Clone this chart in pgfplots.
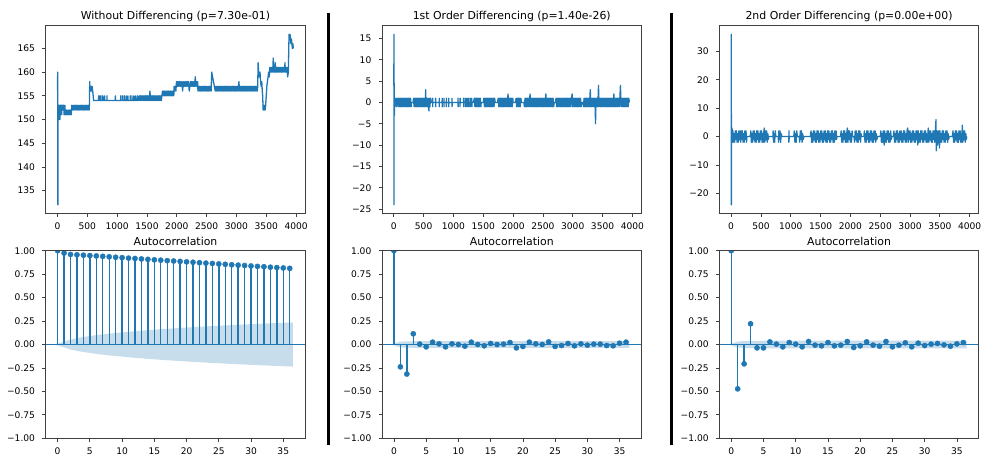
\documentclass[border=0pt]{standalone}
\usepackage{fontspec}
\setmainfont{DejaVu Sans}
\usepackage{pgfplots}
\usepackage{pgfplotstable}
\pgfplotsset{compat=1.18}
\definecolor{c0}{RGB}{31,119,180}
\newcommand\ticksize{\fontsize{9.1pt}{10.5pt}\selectfont}
\newcommand\titlesize{\fontsize{10.9pt}{12.5pt}\selectfont}

\pgfplotstableread{
lag acf
0 1.0
1 0.975
2 0.960
3 0.956
4 0.952
5 0.948
6 0.944
7 0.940
8 0.935
9 0.930
10 0.926
11 0.921
12 0.917
13 0.912
14 0.908
15 0.903
16 0.899
17 0.894
18 0.890
19 0.886
20 0.881
21 0.877
22 0.872
23 0.868
24 0.864
25 0.859
26 0.855
27 0.850
28 0.846
29 0.842
30 0.837
31 0.833
32 0.829
33 0.824
34 0.820
35 0.816
36 0.812
}\acfA

\pgfplotstableread{
lag acf
0 1.0
1 -0.238
2 -0.315
3 0.114
4 0.004
5 -0.025
6 0.025
7 0.007
8 -0.025
9 0.007
10 0.0
11 -0.018
12 0.025
13 0.0
14 -0.014
15 0.011
16 0.0
17 0.004
18 0.021
19 -0.036
20 -0.021
21 0.025
22 0.007
23 0.0
24 0.028
25 -0.021
26 -0.011
27 0.011
28 -0.014
29 0.007
30 -0.007
31 0.004
32 0.004
33 -0.011
34 -0.014
35 0.014
36 0.025
}\acfB

\pgfplotstableread{
lag acf
0 1.0
1 -0.473
2 -0.206
3 0.221
4 -0.036
5 -0.036
6 0.028
7 0.004
8 -0.025
9 0.021
10 0.004
11 -0.025
12 0.032
13 -0.007
14 -0.014
15 0.021
16 -0.014
17 -0.007
18 0.032
19 -0.032
20 -0.014
21 0.028
22 -0.007
23 -0.018
24 0.032
25 -0.025
26 -0.007
27 0.018
28 -0.025
29 0.014
30 -0.011
31 0.004
32 0.011
33 -0.004
34 -0.018
35 0.007
36 0.021
}\acfC

% confidence bands: upper edge then lower edge reversed (closed polygon)
\pgfplotstableread{
x y
-0.5 0
1 0.031
2 0.053
3 0.068
4 0.080
5 0.090
6 0.100
7 0.108
8 0.116
9 0.123
10 0.129
11 0.136
12 0.142
13 0.147
14 0.153
15 0.158
16 0.163
17 0.168
18 0.172
19 0.177
20 0.181
21 0.185
22 0.189
23 0.193
24 0.197
25 0.200
26 0.204
27 0.207
28 0.211
29 0.214
30 0.217
31 0.220
32 0.223
33 0.226
34 0.229
35 0.232
36.5 0.235
36.5 -0.235
35 -0.232
34 -0.229
33 -0.226
32 -0.223
31 -0.220
30 -0.217
29 -0.214
28 -0.211
27 -0.207
26 -0.204
25 -0.200
24 -0.197
23 -0.193
22 -0.189
21 -0.185
20 -0.181
19 -0.177
18 -0.172
17 -0.168
16 -0.163
15 -0.158
14 -0.153
13 -0.147
12 -0.142
11 -0.136
10 -0.129
9 -0.123
8 -0.116
7 -0.108
6 -0.100
5 -0.090
4 -0.080
3 -0.068
2 -0.053
1 -0.031
-0.5 0
}\bandA

\pgfplotstableread{
x y
-0.5 0
1 0.031
2 0.033
3 0.035
4 0.036
36.5 0.036
36.5 -0.036
4 -0.036
3 -0.035
2 -0.033
1 -0.031
-0.5 0
}\bandB

\pgfplotstableread{
x y
-0.5 0
1 0.031
2 0.037
3 0.039
4 0.040
36.5 0.041
36.5 -0.041
4 -0.040
3 -0.039
2 -0.037
1 -0.031
-0.5 0
}\bandC

\pgfplotsset{
  base/.style={
    scale only axis, width=259.5pt, height=187.6pt, anchor=south west,
    axis line style={black!75, line width=0.75pt},
    every tick/.style={black!75, line width=0.75pt},
    tick align=outside, major tick length=3.3pt,
    xtick pos=bottom, ytick pos=left,
    ticklabel style={font=\ticksize},
    every axis title/.style={at={(0.5,1)}, anchor=base, yshift=5.7pt, font=\titlesize},
    xticklabel style={anchor=base, yshift=-13.3pt},
    yticklabel style={anchor=east, inner sep=0pt, xshift=-7.2pt},
    /pgf/number format/assume math mode=true,
    /pgf/number format/1000 sep={},
    axis on top,
  },
  ts/.style={base, xmin=-198, xmax=4153, xtick={0,500,...,4000}},
  acf/.style={base, xmin=-1.85, xmax=38.4, ymin=-1, ymax=1,
    clip marker paths=true,
    xtick={0,5,...,35},
    ytick={-1,-0.75,-0.5,-0.25,0,0.25,0.5,0.75,1},
    yticklabels={−1.00,−0.75,−0.50,−0.25,0.00,0.25,0.50,0.75,1.00}},
  ser/.style={c0, line width=1.3pt, line join=round, no marks},
  stem/.style={c0, line width=1.4pt, ycomb, no marks},
  dots/.style={c0, only marks, mark=*, mark size=2.6pt, mark options={fill=c0, draw=c0}},
}

\begin{document}
\begin{tikzpicture}
\useasboundingbox (0,0) rectangle (982pt,456pt);

% ---------------- top left ----------------
\begin{axis}[ts, at={(45.7pt,242.7pt)}, ymin=130.2, ymax=169.8,
  ytick={135,140,...,165}, title={Without Differencing (p=7.30e-01)}]
\addplot[ser] coordinates {
(0,156)(3,160)(6,132)(10,151)(15,150)(20,153)(25,150)(30,152)(35,153)(40,150)(45,153)(50,151)(55,153)(60,152)(65,153)(70,151)(75,153)(80,152)(85,153)(90,152)(95,153)(100,152)(105,153)(110,151)(115,152)(120,151)(125,153)(130,151)(140,152)(150,151)(160,152)(170,151)(180,152)(190,151)(200,152)(210,151)(220,152)(230,151)(240,153)(250,152)(260,153)(270,152)(280,153)(290,152)(300,153)(310,152)(320,153)(330,152)(340,153)(350,152)(360,153)(370,152)(380,153)(390,152)(400,153)(410,152)(420,153)(430,152)(440,153)(450,152)(460,153)(470,152)(480,153)(490,152)(500,153)(510,152)(520,153)(530,152)(535,153)(540,158)(545,156)(550,157)(555,156)(560,157)(565,156)(570,157)(575,156)(580,157)(590,156)(598,155)(605,154)
(689,154)(690,155)(691,154)(709,154)(710,155)(711,154)(729,154)(730,155)(731,154)(759,154)(760,155)(761,154)(789,154)(790,155)(791,154)(829,154)(830,155)(831,154)(969,154)(970,155)(971,154)(1059,154)(1060,155)(1061,154)(1089,154)(1090,155)(1091,154)(1119,154)(1120,155)(1121,154)(1149,154)(1150,155)(1151,154)(1179,154)(1180,155)(1181,154)(1219,154)(1220,155)(1221,154)(1249,154)(1250,155)(1251,154)(1279,154)(1280,155)(1281,154)(1309,154)(1310,155)(1311,154)(1339,154)(1340,155)(1341,154)(1360,154)(1370,155)(1380,154)
(1390,155)(1400,154)(1410,155)(1420,154)(1430,155)(1440,154)(1450,155)(1460,154)(1470,155)(1480,154)(1490,155)(1500,154)(1510,155)(1520,154)(1530,155)(1540,154)(1550,156)(1560,154)(1570,155)(1580,154)(1590,155)(1600,154)(1610,155)(1620,154)(1630,155)(1640,154)(1650,155)(1660,154)(1670,155)(1680,154)(1690,155)(1700,154)(1710,155)(1720,154)(1730,155)(1740,154)(1750,155)
(1760,156)(1770,155)(1780,156)(1790,155)(1800,156)(1810,155)(1820,156)(1830,155)(1840,156)(1850,155)(1860,156)(1870,155)(1880,156)(1890,155)(1900,156)(1910,155)(1920,156)(1930,155)(1940,156)(1950,155)(1955,157)(1965,156)(1975,157)(1985,156)(1995,158)(2005,157)
(2010,158)(2020,157)(2030,158)(2040,157)(2050,158)(2060,157)(2070,158)(2080,157)(2090,158)(2096,156)(2105,157)(2115,158)(2125,157)(2135,158)(2145,157)(2155,158)(2165,157)(2175,158)(2185,157)(2195,158)(2209,156)(2220,157)(2230,158)(2240,157)(2250,158)(2260,157)(2270,158)(2280,157)(2290,158)(2300,157)(2310,159)(2320,157)(2330,158)(2340,157)(2349,158)
(2355,156)(2365,157)(2375,156)(2385,157)(2395,156)(2405,157)(2415,156)(2425,157)(2435,156)(2445,157)(2455,156)(2465,157)(2475,156)(2485,157)(2495,156)(2505,157)(2515,156)(2525,157)(2535,156)(2545,157)(2555,156)(2565,157)(2575,156)(2586,160)(2600,159)(2615,158)(2630,157)(2645,156)
(2655,157)(2665,156)(2675,157)(2685,156)(2695,157)(2705,156)(2715,157)(2725,156)(2735,157)(2745,156)(2755,157)(2765,156)(2775,157)(2785,156)(2795,157)(2805,156)(2815,157)(2825,156)(2835,157)(2845,156)(2855,157)(2865,156)(2875,157)(2885,156)(2895,157)(2905,156)(2915,157)(2925,156)(2935,157)(2945,156)(2955,157)(2965,156)(2975,157)(2985,156)(2995,157)(3005,156)(3015,157)(3025,156)(3035,157)(3042,158)(3050,156)(3060,157)(3070,156)(3080,157)(3090,156)(3100,157)(3110,156)(3120,157)(3130,156)(3140,157)(3150,156)(3160,157)(3170,156)(3180,157)(3190,156)(3200,157)(3210,156)(3220,157)(3230,156)(3240,157)(3250,156)(3260,157)(3270,156)(3280,157)(3290,156)(3300,157)(3310,156)(3320,157)(3330,156)(3340,157)(3350,156)(3357,157)
(3363,162)(3372,160)(3385,159)(3395,160)(3405,158)(3415,157)(3425,158)(3433,156)(3440,155)(3448,152)(3456,153)(3464,152)(3472,153)(3480,152)(3490,153)(3500,155)(3510,157)(3520,158)(3530,159)(3540,160)(3550,159)
(3560,161)(3570,160)(3580,161)(3590,160)(3600,161)(3610,160)(3617,163)(3625,160)(3635,161)(3645,160)(3650,162)(3660,160)(3670,161)(3680,160)(3690,161)(3700,160)(3710,161)(3720,160)(3730,161)(3740,160)(3750,161)(3760,160)(3770,161)(3780,160)(3790,161)(3800,160)(3810,161)(3814,162)(3820,160)(3830,161)(3840,160)(3850,161)(3859,159)(3870,160)(3882,168)(3890,167)(3898,168)(3906,167)(3914,166)(3922,167)(3930,166)(3938,165)(3946,166)(3955,165)
};
\end{axis}

% ---------------- top middle ----------------
\begin{axis}[ts, at={(382pt,242.7pt)}, ymin=-26, ymax=18,
  ytick={-25,-20,...,15}, yticklabels={−25,−20,−15,−10,−5,0,5,10,15},
  title={1st Order Differencing (p=1.40e-26)}]
\addplot[ser] coordinates {
(1,4)(2,16)(3,-24)(4,8)(6,-1)(10,-3)(14,1)(20,0)(30,1)(40,-1)(50,0)
(60,1)(70,-1)(80,1)(90,-1)(100,1)(110,-1)(120,1)(130,-1)(140,1)(150,-1)(160,1)(170,-1)(180,1)(190,-1)(200,1)(210,-1)(220,1)(230,-1)(240,1)(250,-1)(260,1)(270,-1)(280,1)(290,-1)(295,0)(325,0)
(330,1)(340,-1)(350,1)(360,-1)(370,1)(380,-1)(390,1)(400,-1)(410,1)(420,-1)(430,1)(440,-1)(450,1)(460,-1)(470,1)(480,-1)(490,1)(500,-1)(510,1)(520,-1)(530,1)(535,3)(540,-1)(550,1)(560,-1)(570,1)(580,-1)(590,-2)(595,1)(605,-1)(615,1)(625,0)
(650,0)(651,1)(652,-1)(653,0)(700,0)(701,1)(702,-1)(703,0)(760,0)(761,-1)(762,1)(763,0)(810,0)(811,1)(812,-1)(813,0)(840,0)(841,1)(842,-1)(843,0)(880,0)(881,-1)(882,1)(883,0)(920,0)(921,1)(922,-1)(923,0)(975,0)(976,1)(977,-1)(978,0)(1076,0)(1077,1)(1078,-1)(1079,0)(1110,0)(1111,-1)(1112,1)(1113,0)(1170,0)(1171,1)(1172,-1)(1173,0)(1200,0)(1201,1)(1202,-1)(1203,0)(1225,0)(1226,-1)(1227,1)(1228,0)(1252,0)(1253,1)(1254,-1)(1255,0)(1280,0)(1281,1)(1282,-1)(1283,0)(1307,0)(1308,1)(1309,-1)(1310,0)(1335,0)
(1350,1)(1360,-1)(1370,1)(1380,-1)(1390,1)(1400,-1)(1410,1)(1420,-1)(1430,1)(1440,-1)(1450,1)(1460,-1)(1465,0)(1500,0)
(1510,1)(1520,-1)(1530,1)(1540,-1)(1550,1)(1560,-1)(1570,1)(1580,-1)(1590,1)(1600,-1)(1610,1)(1620,-1)(1630,1)(1640,-1)(1650,1)(1660,-1)(1670,1)(1680,-1)(1690,1)(1700,0)(1740,0)
(1750,1)(1760,-1)(1770,1)(1780,-1)(1790,1)(1800,-1)(1810,1)(1820,-1)(1830,1)(1840,-1)(1850,1)(1860,-1)(1870,1)(1880,-1)(1890,1)(1900,-1)(1915,2)(1925,-1)
(1935,1)(1945,-1)(1955,1)(1965,-1)(1975,1)(1985,-1)(1995,1)(2000,0)(2040,0)
(2050,1)(2060,-1)(2070,1)(2080,-1)(2090,1)(2100,-1)(2110,1)(2120,-1)(2130,1)(2140,0)(2180,0)
(2190,-1)(2200,1)(2210,-1)(2220,1)(2230,-1)(2240,1)(2250,-1)(2260,1)(2270,-1)(2284,2)(2295,-1)
(2305,1)(2315,-1)(2325,1)(2335,-1)(2345,1)(2355,-1)(2365,1)(2375,-1)(2385,1)(2395,-1)(2405,1)(2415,-1)(2425,1)(2435,-1)(2445,1)(2455,-1)(2465,1)(2475,-1)(2485,1)(2495,-1)(2505,1)(2515,-1)(2525,1)(2535,-1)(2550,2)(2560,-1)
(2570,1)(2580,-1)(2590,1)(2600,-1)(2610,1)(2620,-1)(2630,1)(2640,-1)(2650,1)(2660,-1)(2670,1)(2680,-1)(2690,0)(2710,0)
(2720,1)(2730,-1)(2740,1)(2750,-1)(2760,1)(2770,-1)(2780,1)(2790,-1)(2800,1)(2810,-1)(2820,1)(2830,-1)(2840,1)(2850,-1)(2860,1)(2870,-1)(2880,1)(2890,-1)(2900,1)(2910,-1)(2920,1)(2930,-1)(2940,1)(2950,-1)(2960,1)(2970,-1)(2980,1)(2990,2)(3000,-1)
(3010,1)(3020,-1)(3030,1)(3040,-1)(3050,1)(3060,-1)(3070,1)(3080,-1)(3090,1)(3100,-1)(3110,1)(3120,-1)(3130,1)(3140,-1)(3150,0)(3170,0)
(3180,-1)(3190,1)(3200,-1)(3210,1)(3220,-1)(3230,1)(3240,-1)(3250,1)(3260,-1)(3270,1)(3280,-1)(3294,3)(3302,-1)(3310,1)(3320,-1)(3330,1)(3340,-1)(3350,1)(3360,-1)(3370,1)(3376,-1)(3382,-5)(3390,1)(3400,-1)(3410,1)(3420,-1)(3432,4)(3440,-1)
(3450,1)(3460,-1)(3470,1)(3480,-1)(3490,1)(3500,-1)(3510,1)(3520,-1)(3530,1)(3540,-1)(3550,1)(3560,-1)(3570,1)(3580,-1)(3590,1)(3600,-1)(3610,1)(3620,-1)(3630,1)(3640,-1)(3650,1)(3660,-1)(3670,1)(3680,-1)(3690,2)(3700,-1)(3710,1)(3720,-1)(3730,1)(3740,-1)(3750,1)(3760,-1)(3770,1)(3780,-1)(3790,1)(3800,4)(3810,-1)(3820,1)(3830,-1)(3840,1)(3850,-1)(3860,1)(3870,-1)(3880,1)(3890,-1)(3900,1)(3910,-1)(3920,1)(3930,-1)(3940,1)(3950,0)
};
\end{axis}

% ---------------- top right ----------------
\begin{axis}[ts, at={(719.3pt,242.7pt)}, ymin=-27, ymax=39,
  ytick={-20,-10,...,30}, yticklabels={−20,−10,0,10,20,30},
  title={2nd Order Differencing (p=0.00e+00)}]
\addplot[ser] coordinates {
(2,2)(3,36)(4,-24)(5,8)(6,-3)(8,2)(12,-2)(16,3)(22,-2)(30,2)(40,-2)(50,1)(60,-2)(70,2)(80,-1)(90,2)(100,-2)(110,1)(120,-2)(130,2)(140,-1)(150,2)(160,-2)(170,2)(180,-1)(190,2)(200,-2)(210,1)(220,-2)(230,2)(240,-1)(250,2)(258,-2)(265,0)(320,0)
(330,2)(340,-2)(350,1)(360,-2)(370,2)(380,-1)(390,2)(400,-2)(410,1)(420,-2)(430,2)(440,-1)(450,2)(460,-2)(470,1)(480,-2)(490,2)(500,-1)(510,2)(520,-2)(530,1)(540,-2)(550,2)(556,3)(565,-2)(575,2)(585,-1)(595,2)(605,-2)(615,1)(625,-1)(630,0)
(700,0)(705,2)(710,-2)(720,1)(730,-2)(740,2)(750,0)(790,0)(795,-2)(800,2)(810,-1)(820,2)(830,-2)(840,1)(850,0)(966,0)(968,-2)(970,2)(972,-1)(974,0)(1050,0)(1060,2)(1070,-2)(1080,1)(1090,-2)(1100,2)(1110,0)(1140,0)(1150,-2)(1160,2)(1170,-1)(1180,2)(1190,-2)(1200,1)(1210,-1)(1220,0)(1330,0)
(1340,2)(1350,-2)(1360,1)(1370,-2)(1380,2)(1390,-1)(1400,2)(1410,-2)(1420,1)(1430,-2)(1440,2)(1450,-1)(1460,2)(1470,-2)(1480,1)(1490,-2)(1500,2)(1510,-1)(1520,2)(1530,-2)(1540,1)(1550,-2)(1560,2)(1570,-1)(1580,2)(1590,-2)(1600,1)(1610,-2)(1620,2)(1630,-1)(1640,2)(1650,-2)(1660,1)(1670,-2)(1680,2)(1690,-1)(1700,2)(1710,-2)(1720,1)(1730,-2)(1740,2)(1750,-1)(1760,2)(1768,-1)(1775,0)(1835,0)
(1845,2)(1855,-2)(1865,1)(1875,-2)(1885,2)(1895,-1)(1905,2)(1915,-2)(1925,1)(1935,-2)(1942,2)(1950,3)(1958,-2)(1968,2)(1978,-1)(1988,2)(1998,-2)(2008,1)(2018,-2)(2028,2)(2035,0)(2060,0)
(2070,-2)(2080,2)(2090,-1)(2100,2)(2110,-2)(2120,1)(2130,-2)(2140,2)(2150,-1)(2160,2)(2170,-2)(2178,1)(2185,0)(2225,0)
(2235,2)(2245,-2)(2255,1)(2265,-2)(2275,2)(2285,-1)(2295,2)(2305,-2)(2315,1)(2325,-2)(2335,2)(2345,-1)(2355,2)(2365,-2)(2375,1)(2385,-2)(2395,2)(2405,-1)(2415,2)(2425,-2)(2435,1)(2445,-1)(2455,0)(2500,0)
(2510,2)(2520,-2)(2530,1)(2540,-2)(2550,2)(2560,-1)(2567,-3)(2575,2)(2585,-2)(2595,1)(2605,-2)(2615,2)(2625,-1)(2635,2)(2645,-2)(2655,1)(2665,-2)(2675,2)(2685,-1)(2695,0)(2720,0)
(2730,2)(2740,-2)(2750,1)(2760,-2)(2770,2)(2780,-1)(2790,2)(2800,-2)(2810,1)(2820,-2)(2830,2)(2840,-1)(2850,2)(2860,-2)(2870,1)(2880,-2)(2890,2)(2900,-1)(2910,2)(2920,-2)(2930,1)(2940,-2)(2950,2)(2960,3)(2970,-2)(2980,2)(2990,-1)(3000,2)(3010,-2)(3020,1)(3030,-2)(3040,2)(3050,-1)(3060,2)(3070,-2)(3080,1)(3090,-2)(3100,2)(3110,-1)(3120,2)(3130,-3)(3140,2)(3150,-2)(3160,1)(3170,-2)(3180,2)(3190,-1)(3200,2)(3210,-2)(3220,1)(3230,-2)(3240,2)(3250,-1)(3260,2)(3270,-2)(3280,1)(3290,-2)(3305,3)(3315,-2)(3325,2)(3335,-1)(3345,2)(3355,-2)(3365,1)(3375,-2)(3385,2)(3395,-1)(3405,2)(3415,-2)(3425,2)(3435,6)(3440,-5)(3448,2)(3455,-2)(3462,-3)(3470,2)(3480,-1)(3487,2)(3494,-4)(3502,2)(3510,-2)(3520,1)(3530,-2)(3540,2)(3550,-1)(3560,2)(3570,-2)(3580,1)(3590,-2)(3600,2)(3610,-1)(3620,2)(3630,-2)(3640,1)(3648,-1)(3655,0)(3710,0)
(3720,2)(3730,-2)(3740,1)(3750,-2)(3760,2)(3770,-1)(3780,2)(3790,-2)(3800,1)(3810,-2)(3820,2)(3830,-1)(3840,2)(3850,-2)(3860,1)(3868,-2)(3876,4)(3885,-2)(3895,2)(3905,-1)(3915,2)(3925,-2)(3935,1)(3945,-1)(3950,0)
};
\end{axis}

% ---------------- bottom left ----------------
\begin{axis}[acf, at={(45.7pt,17.7pt)}, title={Autocorrelation}]
\addplot[c0, line width=1.3pt] coordinates {(-1.85,0)(38.4,0)};
\addplot[stem] table[x=lag,y=acf]{\acfA};
\addplot[draw=none, fill=c0, fill opacity=0.25] table[x=x,y=y]{\bandA};
\addplot[dots] table[x=lag,y=acf]{\acfA};
\end{axis}

% ---------------- bottom middle ----------------
\begin{axis}[acf, at={(382pt,17.7pt)}, title={Autocorrelation}]
\addplot[c0, line width=1.3pt] coordinates {(-1.85,0)(38.4,0)};
\addplot[stem] table[x=lag,y=acf]{\acfB};
\addplot[draw=none, fill=c0, fill opacity=0.25] table[x=x,y=y]{\bandB};
\addplot[dots] table[x=lag,y=acf]{\acfB};
\end{axis}

% ---------------- bottom right ----------------
\begin{axis}[acf, at={(719.3pt,17.7pt)}, title={Autocorrelation}]
\addplot[c0, line width=1.3pt] coordinates {(-1.85,0)(38.4,0)};
\addplot[stem] table[x=lag,y=acf]{\acfC};
\addplot[draw=none, fill=c0, fill opacity=0.25] table[x=x,y=y]{\bandC};
\addplot[dots] table[x=lag,y=acf]{\acfC};
\end{axis}

% separators
\draw[line width=3pt] (328.3pt,443pt) -- (328.3pt,11pt);
\draw[line width=3pt] (671.8pt,443pt) -- (671.8pt,11pt);
\end{tikzpicture}
\end{document}
